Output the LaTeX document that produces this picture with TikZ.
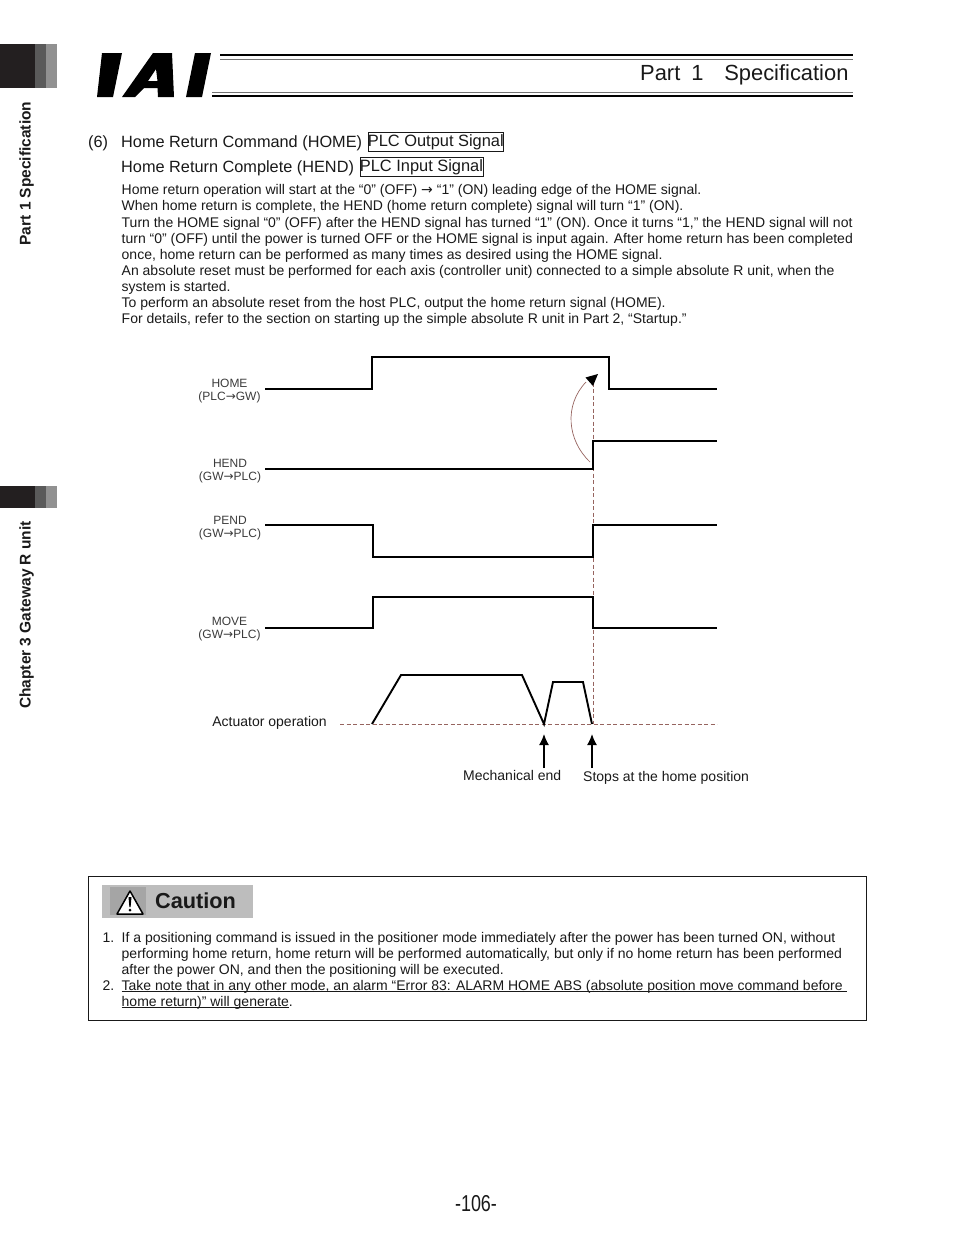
\documentclass[tikz,border=0pt]{standalone}
\usepackage{fontspec}
\setmainfont{Liberation Sans}
\newfontfamily\arrowfont{DejaVu Sans}
\usetikzlibrary{arrows.meta,positioning,calc}
\definecolor{lineColor}{RGB}{25,25,25}
\definecolor{tabDark}{RGB}{35,31,32}
\definecolor{tabMid}{RGB}{90,90,90}
\definecolor{tabLight}{RGB}{145,145,145}
\definecolor{bannerGray}{RGB}{189,189,189}
\definecolor{iconGray}{RGB}{165,165,165}
\definecolor{dashRed}{RGB}{150,100,95}

\begin{document}
\begin{tikzpicture}[
  x=1pt, y=-1pt,
  font=\fontsize{14}{16}\selectfont,
  textline/.style={anchor=base west, inner sep=0pt, text=lineColor},
  headline/.style={anchor=base west, inner sep=0pt, text=lineColor, font=\fontsize{16.3}{18}\selectfont},
  signalbox/.style={draw=lineColor, line width=0.8pt, inner sep=0pt, minimum height=19pt, text=lineColor, font=\fontsize{16.4}{18}\selectfont},
  sidetext/.style={rotate=90, inner sep=0pt, text=lineColor, font=\fontsize{15.5}{18}\selectfont\bfseries},
  siglabel/.style={inner sep=0pt, text=lineColor!85, align=center, font=\fontsize{12}{13}\selectfont},
  wave/.style={draw=black, line width=1.9pt, line join=miter},
  guide/.style={draw=dashRed, line width=0.7pt, dashed, dash pattern=on 4pt off 2.5pt},
  arrow/.style={-{Latex[length=11pt,width=10pt]}, draw=black, line width=1.4pt}
]
\useasboundingbox (0,0) rectangle (954,1235);

% ------------------------------------------------------------------
% Side tabs
% ------------------------------------------------------------------
\foreach \ytop/\ybot in {44/88,486/508} {
  \fill[tabDark] (0,\ytop) rectangle (35,\ybot);
  \fill[tabMid] (35,\ytop) rectangle (46,\ybot);
  \fill[tabLight] (46,\ytop) rectangle (57,\ybot);
}
\node[sidetext] (sidepart) at (26.5,173.5) {Part 1 Specification};
\node[sidetext] (sidechapter) at (26.5,615) {Chapter 3 Gateway R unit};

% ------------------------------------------------------------------
% Header
% ------------------------------------------------------------------
\fill[black] (102,53) -- (122,53) -- (113,97) -- (97,97) -- cycle;
\fill[black, even odd rule] (153,53) -- (172,53) -- (174,97) -- (158,97) -- (157.5,88) -- (144,88) -- (135,97) -- (122,97) -- cycle
  (156,69) -- (148,81) -- (157.5,81) -- cycle;
\fill[black] (195,53) -- (211,53) -- (202,97) -- (186,97) -- cycle;
\draw[black, line width=2.4pt] (220,55) -- (853,55);
\draw[black!55, line width=0.9pt] (220,59) -- (853,59);
\draw[black!55, line width=0.9pt] (212,92) -- (853,92);
\draw[black, line width=2.8pt] (212,96) -- (853,96);
\node[anchor=base west, inner sep=0pt, text=lineColor, font=\fontsize{21.9}{24}\selectfont] (parttitle) at (640,80) {Part\hspace{0.5em}1\hspace{0.95em}Specification};

% ------------------------------------------------------------------
% Text block
% ------------------------------------------------------------------
\node[headline] (headnum) at (88,147.5) {(6)};
\node[headline] (head1) at (121,147.5) {Home Return Command (HOME)};
\node[signalbox, anchor=west] (outbox) at (367.5,142) {PLC Output Signal};
\node[headline] (head2) at (121,172.5) {Home Return Complete (HEND)};
\node[signalbox, anchor=west] (inbox) at (359.5,167) {PLC Input Signal};

\node[textline] (line1) at (121.5,194) {Home return operation will start at the “0” (OFF) {\arrowfont →} “1” (ON) leading edge of the HOME signal.};
\node[textline] (line2) at (121.5,210) {When home return is complete, the HEND (home return complete) signal will turn “1” (ON).};
\node[textline] (line3) at (121.5,227) {Turn the HOME signal “0” (OFF) after the HEND signal has turned “1” (ON). Once it turns “1,” the HEND signal will not};
\node[textline] (line4) at (121.5,243) {turn “0” (OFF) until the power is turned OFF or the HOME signal is input again. After home return has been completed};
\node[textline] (line5) at (121.5,259) {once, home return can be performed as many times as desired using the HOME signal.};
\node[textline] (line6) at (121.5,275) {An absolute reset must be performed for each axis (controller unit) connected to a simple absolute R unit, when the};
\node[textline] (line7) at (121.5,291) {system is started.};
\node[textline] (line8) at (121.5,307) {To perform an absolute reset from the host PLC, output the home return signal (HOME).};
\node[textline] (line9) at (121.5,323) {For details, refer to the section on starting up the simple absolute R unit in Part 2, “Startup.”};

% ------------------------------------------------------------------
% Timing chart
% ------------------------------------------------------------------
\node[siglabel] (labhome) at (229.5,391.5) {HOME\\(PLC{\arrowfont →}GW)};
\node[siglabel] (labhend) at (230,471) {HEND\\(GW{\arrowfont →}PLC)};
\node[siglabel] (labpend) at (230,528) {PEND\\(GW{\arrowfont →}PLC)};
\node[siglabel] (labmove) at (229.5,629) {MOVE\\(GW{\arrowfont →}PLC)};

\draw[guide] (593,376) -- (593,724);
\draw[guide] (340,724) -- (717,724);

\draw[wave] (265,389) -| (372,357) -| (609,389) -- (717,389);
\draw[wave] (265,469) -| (593,441) -- (717,441);
\draw[wave] (265,525) -| (373,557) -| (593,525) -- (717,525);
\draw[wave] (265,628) -| (373,597) -| (593,628) -- (717,628);
\draw[wave] (372,724) -- (401,675) -- (522,675) -- (544,724) -- (553,682) -- (583,682) -- (592,724);

\draw[dashRed, line width=0.7pt] (590,462) .. controls (567,440) and (564,405) .. (586,382);
\fill[black] (585.5,377.5) -- (598,374) -- (593,386) -- cycle;

\node[textline, anchor=base east] (labact) at (327,726) {Actuator operation};
\node[textline] (labmech) at (463,780) {Mechanical end};
\node[textline] (labstop) at (583,781) {Stops at the home position};
\coordinate (mechtail) at (544,768);
\coordinate (mechtip) at (544,734);
\coordinate (stoptail) at (592,768);
\coordinate (stoptip) at (592,734);
\draw[arrow] (mechtail) -- (mechtip);
\draw[arrow] (stoptail) -- (stoptip);

% ------------------------------------------------------------------
% Caution box
% ------------------------------------------------------------------
\node[draw=lineColor, line width=0.8pt, fill=white, minimum width=778pt, minimum height=143.5pt, anchor=north west, inner sep=0pt] (cautionbox) at (88,876) {};
\node[fill=bannerGray, minimum width=151pt, minimum height=33pt, anchor=north west, inner sep=0pt] (banner) at (102,885) {};
\node[fill=iconGray, minimum width=36pt, minimum height=28pt, anchor=north west, inner sep=0pt] (iconback) at (110,887) {};
\draw[black, line width=1.5pt, fill=white, line join=round] (130,891) -- (143,914) -- (117,914) -- cycle;
\fill[black] (128.5,897) -- (131.5,897) -- (130.6,907) -- (129.4,907) -- cycle;
\fill[black] (130,910) circle (1.5);
\node[anchor=west, inner sep=0pt, text=lineColor, font=\fontsize{21.7}{26}\selectfont\bfseries] (cautiontitle) at (155,901) {Caution};

\node[textline] (num1) at (102.5,942) {1.};
\node[textline] (item1a) at (121.5,942) {If a positioning command is issued in the positioner mode immediately after the power has been turned ON, without};
\node[textline] (item1b) at (121.5,958) {performing home return, home return will be performed automatically, but only if no home return has been performed};
\node[textline] (item1c) at (121.5,974) {after the power ON, and then the positioning will be executed.};
\node[textline] (num2) at (102.5,990) {2.};
\node[textline] (item2a) at (121.5,990) {\underline{\smash{Take note that in any other mode, an alarm “Error 83: ALARM HOME ABS (absolute position move command before\ }}};
\node[textline] (item2b) at (121.5,1006) {\underline{\smash{home return)” will generate}}.};

% ------------------------------------------------------------------
% Page number
% ------------------------------------------------------------------
\node[inner sep=0pt, xscale=0.78, text=lineColor, font=\fontsize{23}{26}\selectfont] (pagenum) at (476,1204) {-106-};

\end{tikzpicture}
\end{document}
